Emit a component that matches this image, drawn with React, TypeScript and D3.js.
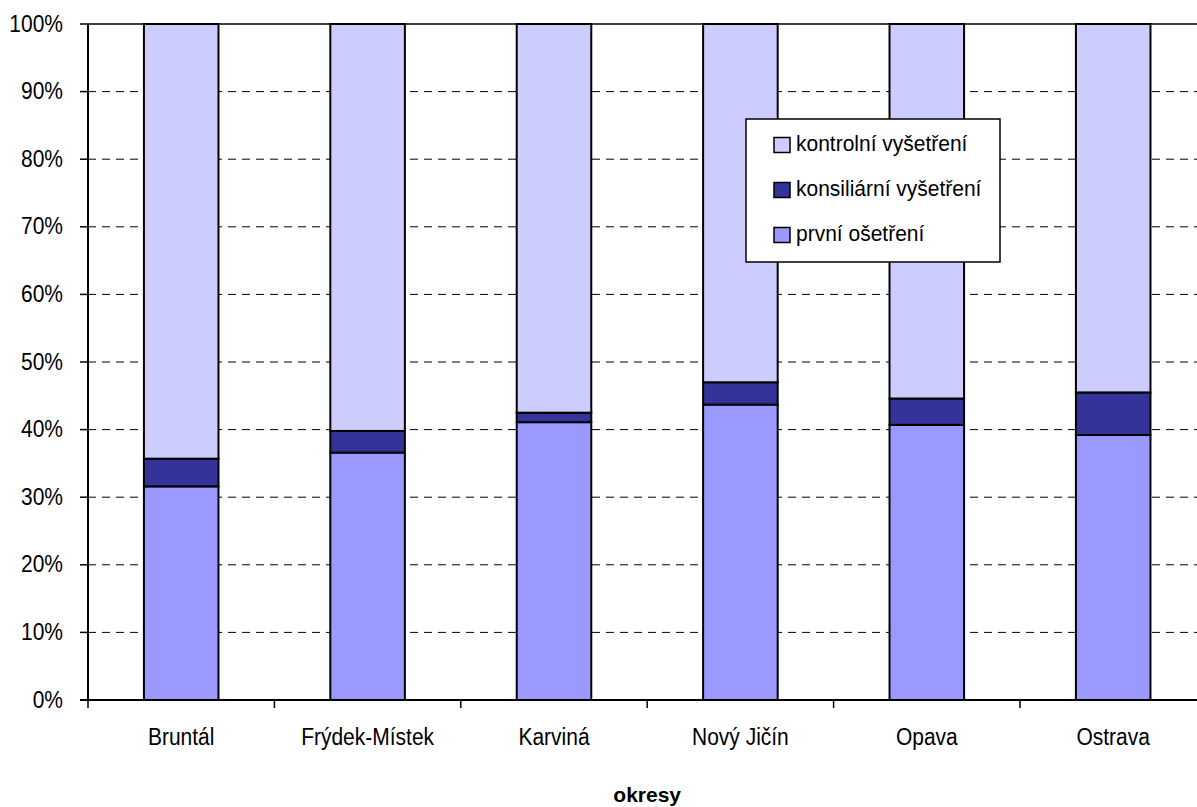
import React from "react";
import * as d3 from "d3";

const categories = ["Bruntál", "Frýdek-Místek", "Karviná", "Nový Jičín", "Opava", "Ostrava"];
const prvni = [31.6, 36.6, 41.1, 43.7, 40.7, 39.2];
const konsiliarni = [4.1, 3.2, 1.4, 3.3, 3.9, 6.3];
const seriesNames = ["první ošetření", "konsiliární vyšetření", "kontrolní vyšetření"];
const seriesColors = ["#9999FF", "#333399", "#CCCCFF"];
const yTicks = [0, 10, 20, 30, 40, 50, 60, 70, 80, 90, 100];
const xTitle = "okresy";

const W = 1197;
const H = 807;
const font = "'Liberation Sans', Arial, sans-serif";
const stretch = 1.12;

export default function App() {
  const left = 88;
  const right = 1206.4;
  const top = 24;
  const bottom = 700;
  const x = d3.scaleBand<string>().domain(categories).range([left, right]).padding(0);
  const y = d3.scaleLinear().domain([0, 100]).range([bottom, top]);
  const bw = x.bandwidth();
  const barW = bw * 0.4;

  const rows = categories.map((c, i) => {
    const p = prvni[i];
    const k = konsiliarni[i];
    return [
      { s: 0, y0: 0, y1: p },
      { s: 1, y0: p, y1: p + k },
      { s: 2, y0: p + k, y1: 100 },
    ];
  });

  const legendOrder = [2, 1, 0];

  return (
    <svg width={W} height={H} style={{ position: "absolute", left: 0, top: 0, background: "#fff" }}>
      {yTicks.filter((t) => t > 0).map((t) => (
        <line
          key={"g" + t}
          x1={left}
          x2={W}
          y1={y(t)}
          y2={y(t)}
          stroke="#000"
          strokeDasharray={t === 100 ? undefined : "8,6"}
          strokeWidth={t === 100 ? 1.5 : 1}
        />
      ))}
      {categories.map((c, i) => (
        <g key={c}>
          {rows[i].map((seg) => (
            <rect
              key={seg.s}
              x={(x(c) as number) + bw * 0.3}
              y={y(seg.y1)}
              width={barW}
              height={y(seg.y0) - y(seg.y1)}
              fill={seriesColors[seg.s]}
              stroke="#000"
              strokeWidth={2}
            />
          ))}
        </g>
      ))}
      <line x1={left} x2={left} y1={top} y2={bottom} stroke="#000" strokeWidth={2} />
      <line x1={left - 8} x2={W} y1={bottom} y2={bottom} stroke="#000" strokeWidth={2} />
      {yTicks.map((t) => (
        <g key={"t" + t}>
          <line x1={left - 8} x2={left} y1={y(t)} y2={y(t)} stroke="#000" strokeWidth={1.5} />
          <text
            transform={`translate(63,${y(t) + 7.5}) scale(1,${stretch})`}
            textAnchor="end"
            fontFamily={font}
            fontSize={21}
            fill="#000"
          >
            {t}%
          </text>
        </g>
      ))}
      {categories.map((c, i) => (
        <line
          key={"xt" + i}
          x1={x(c) as number}
          x2={x(c) as number}
          y1={bottom}
          y2={bottom + 8}
          stroke="#000"
          strokeWidth={1.5}
        />
      ))}
      {categories.map((c) => (
        <text
          key={"xl" + c}
          transform={`translate(${(x(c) as number) + bw / 2},744.5) scale(1,${stretch})`}
          textAnchor="middle"
          fontFamily={font}
          fontSize={21}
          fill="#000"
        >
          {c}
        </text>
      ))}
      <text
        x={(left + right) / 2}
        y={801.5}
        textAnchor="middle"
        fontFamily={font}
        fontSize={21}
        fontWeight="bold"
        fill="#000"
      >
        {xTitle}
      </text>
      <g>
        <rect x={746} y={119} width={254} height={143} fill="#fff" stroke="#000" strokeWidth={1.5} />
        {legendOrder.map((s, j) => (
          <g key={"lg" + s}>
            <rect
              x={774}
              y={137.5 + j * 45}
              width={16}
              height={15}
              fill={seriesColors[s]}
              stroke="#000"
              strokeWidth={1.5}
            />
            <text
              transform={`translate(796,${150.7 + j * 45}) scale(1,1.05)`}
              fontFamily={font}
              fontSize={21}
              fill="#000"
            >
              {seriesNames[s]}
            </text>
          </g>
        ))}
      </g>
    </svg>
  );
}
